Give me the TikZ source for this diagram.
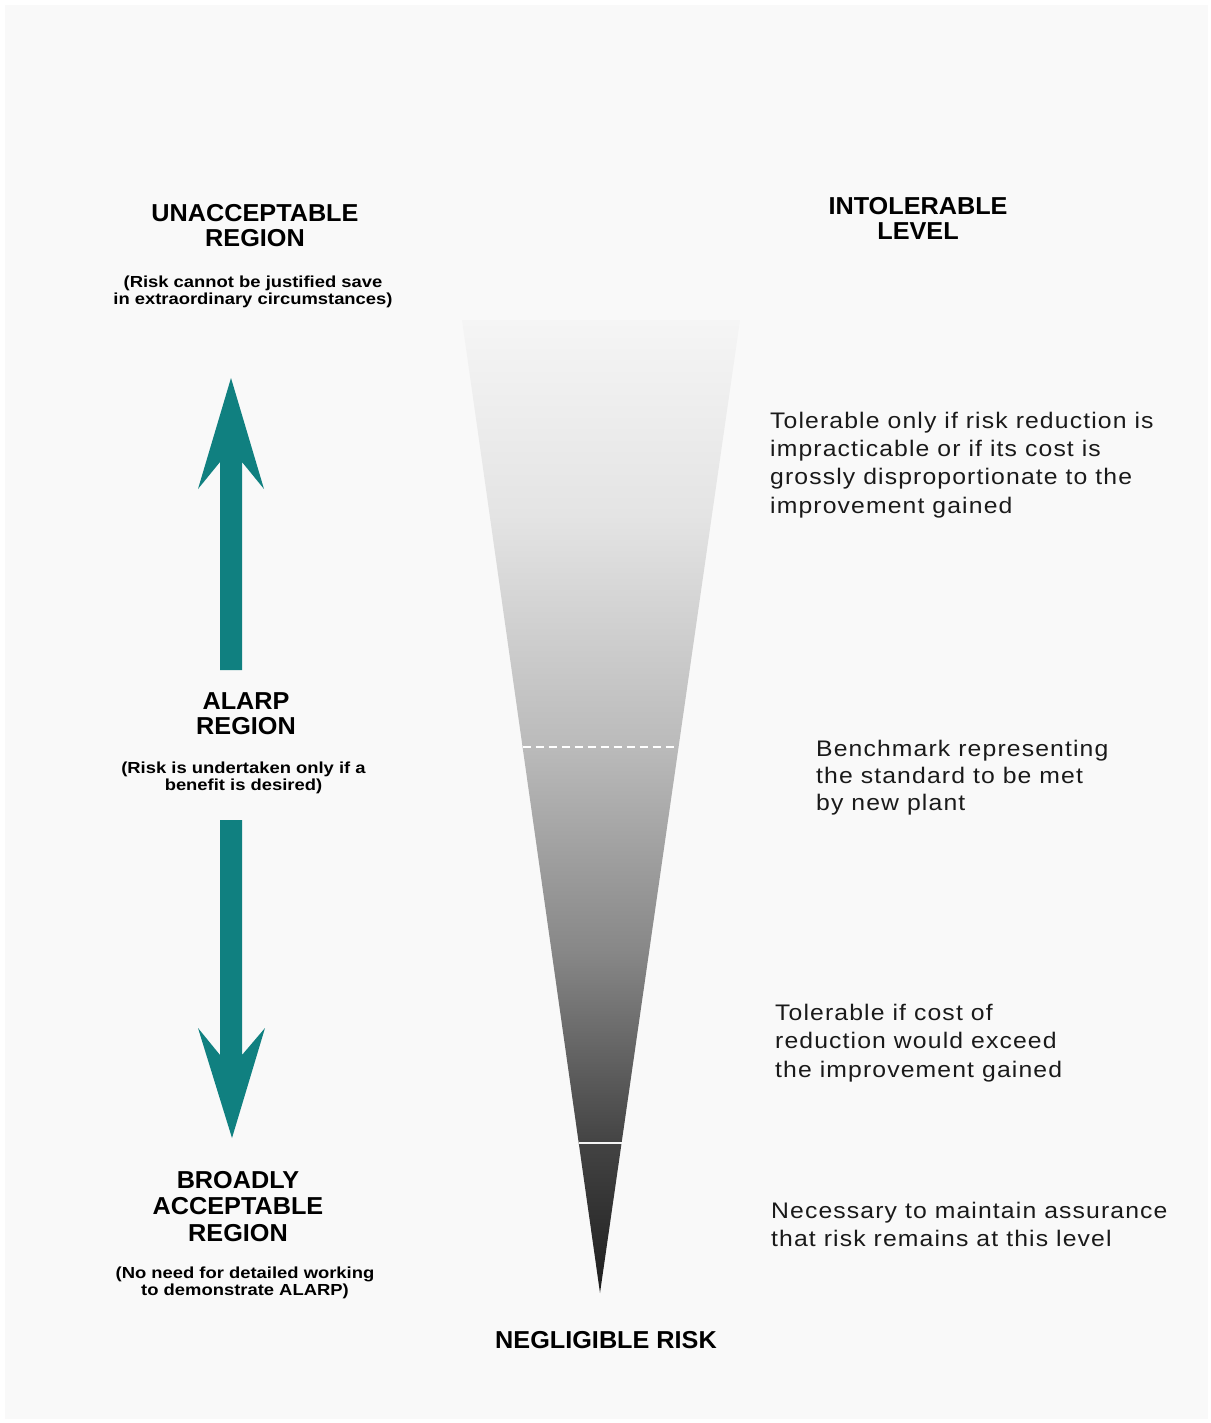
\documentclass[tikz,border=0pt]{standalone}
\usepackage{fontspec}
\usetikzlibrary{calc}
\setmainfont{Liberation Sans}
\newfontfamily\bodyfont{Liberation Sans}[FakeStretch=1.1,LetterSpace=5]
\newfontfamily\subfont{Liberation Sans}[FakeStretch=1.15]
\newfontfamily\headfont{Liberation Sans}[FakeStretch=1.03]
\definecolor{bgc}{HTML}{F9F9F9}
\definecolor{teal2}{RGB}{16,128,128}
\definecolor{txt}{HTML}{1A1A1A}
\definecolor{g0}{RGB}{245,245,245}
\definecolor{g1}{RGB}{228,228,228}
\definecolor{g2}{RGB}{186,186,186}
\definecolor{g3}{RGB}{135,135,135}
\definecolor{g4}{RGB}{66,66,66}
\definecolor{g5}{RGB}{30,30,30}
\pgfdeclareverticalshading{riskshade}{100bp}{color(0bp)=(g5); color(25bp)=(g5); color(32.5bp)=(g4); color(42.5bp)=(g3); color(53bp)=(g2); color(65bp)=(g1); color(75bp)=(g0); color(100bp)=(g0)}
\tikzset{
  head/.style={font={\headfont\fontsize{24.5}{25}\selectfont\bfseries}, align=center, anchor=base, inner sep=0pt, text=black},
  sub/.style={font={\subfont\fontsize{16}{17}\selectfont\bfseries}, align=center, anchor=base, inner sep=0pt, text=black},
  body/.style={font={\bodyfont\fontsize{22.5}{28.3}\selectfont}, align=left, anchor=base west, inner sep=0pt, text=txt},
  arrowshape/.style={fill=teal2, draw=none},
}
\begin{document}
\begin{tikzpicture}[x=1pt,y=-1pt]
\useasboundingbox (0,0) rectangle (1210,1423);
\fill[white] (0,0) rectangle (1210,1423);
\fill[bgc] (5,5) rectangle (1208,1419);

% triangle
\coordinate (TL) at (462,320);
\coordinate (TR) at (740,320);
\coordinate (TIP) at (600,1293);
\shade[shading=riskshade] (TL) -- (TR) -- (TIP) -- cycle;
\coordinate (DL) at ($(TL)!0.4393!(TIP)$);
\coordinate (DR) at ($(TR)!0.4393!(TIP)$);
\coordinate (SL) at ($(TL)!0.8457!(TIP)$);
\coordinate (SR) at ($(TR)!0.8457!(TIP)$);
\draw[white, line width=2pt, dash pattern=on 8pt off 5pt] (DL) -- (DR);
\draw[white!92!gray, line width=2pt] (SL) -- (SR);

% arrows
\fill[arrowshape] (220,670) -- (242,670) -- (242,462) -- (264,489) -- (231,378) -- (198,489) -- (220,462) -- cycle;
\fill[arrowshape] (220,820) -- (242,820) -- (242,1055) -- (265,1028) -- (232,1138) -- (198,1028) -- (220,1055) -- cycle;

% left labels (anchor = baseline of last line)
\node[head] (unacc) at (255,247) {UNACCEPTABLE\\REGION};
\node[sub] (unaccsub) at (253,304) {(Risk cannot be justified save\\in extraordinary circumstances)};
\node[head] (alarp) at (246,734) {ALARP\\REGION};
\node[sub] (alarpsub) at (243.5,790) {(Risk is undertaken only if a\\benefit is desired)};
\node[head, font={\headfont\fontsize{24.5}{26.3}\selectfont\bfseries}] (broad) at (238,1241) {BROADLY\\ACCEPTABLE\\REGION};
\node[sub] (broadsub) at (245,1295) {(No need for detailed working\\to demonstrate ALARP)};

% right labels
\node[head] (intol) at (918,239.5) {INTOLERABLE\\LEVEL};
\node[head] (negl) at (606,1348) {NEGLIGIBLE RISK};
\node[body] (tol1) at (770,513) {Tolerable only if risk reduction is\\impracticable or if its cost is\\grossly disproportionate to the\\improvement gained};
\node[body, font={\bodyfont\fontsize{22.5}{27}\selectfont}] (bench) at (816,810.5) {Benchmark representing\\the standard to be met\\by new plant};
\node[body] (tol2) at (775,1077) {Tolerable if cost of\\reduction would exceed\\the improvement gained};
\node[body] (nec) at (771,1246.3) {Necessary to maintain assurance\\that risk remains at this level};
\end{tikzpicture}
\end{document}
